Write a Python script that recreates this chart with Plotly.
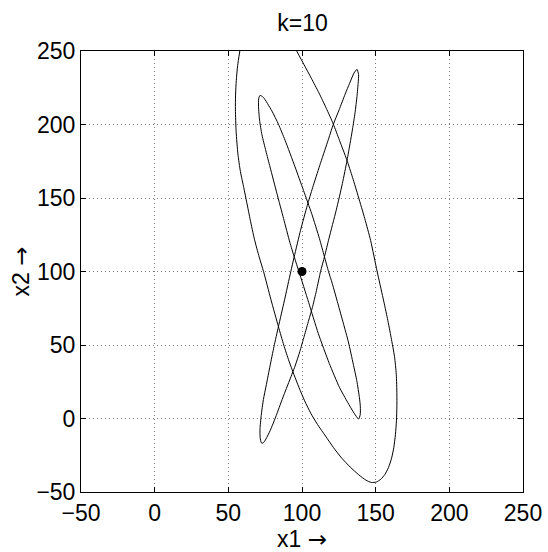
import plotly.graph_objects as go

# Outer U-shaped branch (leaves the top of the box at both ends)
outer_x1 = [57.8, 56.3, 55.4, 54.9, 54.8, 55.3, 56.5, 58.2, 60.5, 62.5, 64.9, 67.7, 70.9, 73.9, 78.9, 84.0,
            87.6, 91.2, 94.5, 98.0, 101.8, 106.0, 110.5, 116.0, 121.4, 127.0, 132.7, 138.5, 143.5,
            147.0, 150.5, 153.5, 156.3, 158.7, 160.8, 162.3, 163.4, 164.1, 164.4, 164.4, 164.0, 162.8,
            160.5, 158.0, 155.0, 151.0, 146.6, 142.6, 138.3, 134.3, 130.4, 125.4, 121.3, 116.5, 111.5,
            106.3, 101.2, 96.4]
outer_x2 = [250.0, 240.0, 230.0, 220.0, 210.0, 195.0, 180.0, 168.0, 157.0, 147.0, 135.0, 122.0, 110.0, 100.0, 81.0, 62.5,
            50.0, 39.0, 30.0, 21.0, 12.0, 3.5, -4.0, -12.0, -19.8, -27.0, -33.0, -38.3, -42.0,
            -43.5, -43.2, -41.3, -38.0, -33.4, -27.0, -19.8, -11.0, -1.6, 8.0, 16.6, 30.0, 42.0,
            55.0, 68.0, 82.0, 100.0, 121.0, 136.0, 150.7, 164.0, 176.0, 189.3, 200.2, 211.0, 221.5,
            231.5, 241.0, 250.0]

# Narrow loop from the upper-left tip to the lower-right tip
loopA_x1 = [71.5, 70.6, 70.5, 71.2, 72.8, 75.5, 78.3, 83.0, 87.5, 91.7, 94.8, 97.9, 104.5, 111.0, 118.5,
            125.5, 131.0, 134.8, 137.3, 138.5, 139.5, 139.6, 139.0, 137.2, 134.8, 131.5, 128.0, 124.3,
            120.5, 118.0, 115.2, 111.8, 106.6, 101.0, 95.3, 88.5, 84.0, 79.5, 73.8, 71.5]
loopA_x2 = [219.8, 217.5, 212.0, 203.0, 193.0, 182.0, 171.1, 153.0, 136.0, 120.0, 109.7, 100.0, 79.0, 58.0, 37.5,
            21.0, 11.0, 4.5, 0.8, -0.3, 2.5, 8.0, 14.0, 25.7, 37.0, 52.0, 65.0, 78.4,
            92.0, 100.0, 110.2, 122.5, 139.3, 155.2, 171.1, 189.3, 200.2, 209.3, 218.4, 219.8]

# Narrow loop from the upper-right tip to the lower-left tip
loopB_x1 = [137.3, 135.3, 132.3, 129.3, 125.2, 121.3, 117.3, 112.0, 107.2, 103.6, 99.0, 94.7, 92.4, 88.0,
            84.0, 81.0, 78.3, 75.8, 73.8, 72.3, 71.5, 71.6, 72.4, 73.5, 75.5, 78.5, 82.5, 86.5,
            91.0, 95.3, 98.5, 101.5, 104.6, 107.0, 109.8, 112.6, 115.3, 118.3, 123.2, 127.4, 130.6,
            132.6, 134.3, 136.0, 137.3, 138.1, 138.4, 137.3]
loopB_x2 = [237.5, 235.0, 228.0, 220.7, 210.0, 200.2, 188.0, 172.0, 157.0, 145.0, 128.0, 110.0, 100.0, 80.0,
            62.5, 49.0, 35.7, 23.0, 12.9, 2.0, -7.0, -13.0, -16.5, -16.8, -14.0, -8.0, 2.0, 12.9,
            24.5, 35.7, 45.5, 56.0, 67.0, 75.3, 87.0, 100.0, 110.2, 122.5, 141.6, 159.8, 175.7,
            187.0, 197.0, 208.0, 219.0, 228.0, 234.0, 237.5]

point_x1 = [100]
point_x2 = [100]

tick_vals = [-50, 0, 50, 100, 150, 200, 250]
axis_range = [-50, 250]

FONT = "Liberation Sans, Arial, Helvetica, sans-serif"
ARROW = "<span style='font-family:DejaVu Sans'>→</span>"
line_style = dict(color="black", width=1, shape="spline", smoothing=0.6)

fig = go.Figure()
for xs, ys in [(outer_x1, outer_x2), (loopA_x1, loopA_x2), (loopB_x1, loopB_x2)]:
    fig.add_trace(go.Scatter(x=xs, y=ys, mode="lines", line=line_style,
                             showlegend=False, hoverinfo="skip", cliponaxis=True))
fig.add_trace(go.Scatter(x=point_x1, y=point_x2, mode="markers",
                         marker=dict(color="black", size=9), showlegend=False))

axis_common = dict(
    range=axis_range, tickvals=tick_vals, showline=True, linecolor="black", linewidth=1,
    mirror="allticks", ticks="inside", ticklen=5, tickcolor="black",
    showgrid=True, gridcolor="#7a7a7a", griddash="1px,3px", gridwidth=1,
    zeroline=False, automargin=False,
    tickfont=dict(size=23, color="black", family=FONT),
)

fig.update_layout(
    width=548, height=552,
    margin=dict(l=81, r=25, t=51, b=60),
    paper_bgcolor="white", plot_bgcolor="white",
    font=dict(family=FONT, color="black", size=23),
    title=dict(text="k=10", x=0.552, xanchor="center", y=0.958, yanchor="middle",
               font=dict(size=23, color="black", family=FONT)),
    xaxis=dict(axis_common, title=dict(text="x1 " + ARROW, standoff=6,
                                      font=dict(size=23, color="black", family=FONT))),
    yaxis=dict(axis_common, title=dict(text="x2 " + ARROW, standoff=0,
                                      font=dict(size=23, color="black", family=FONT))),
)

fig.write_html("out.html", config={"displayModeBar": False},
               post_script="document.body.style.margin='0';document.body.style.padding='0';")
